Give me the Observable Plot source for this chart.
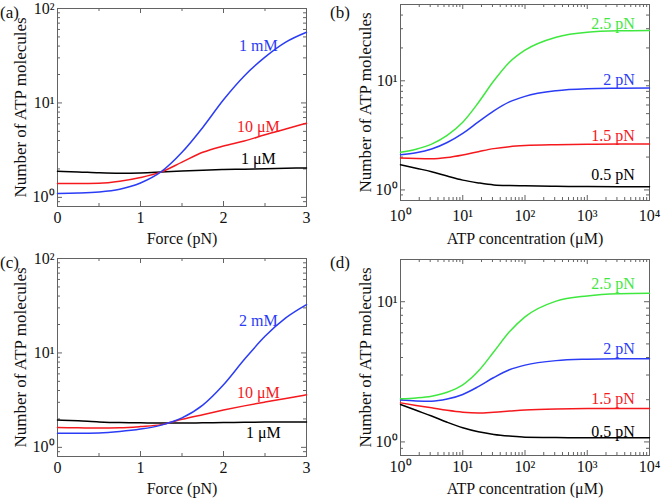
<!DOCTYPE html>
<html><head><meta charset="utf-8">
<script src="https://cdn.jsdelivr.net/npm/d3@7"></script>
<script src="https://cdn.jsdelivr.net/npm/@observablehq/plot@0.6"></script>
<style>
body{margin:0;background:#fff;}
#chart{position:relative;width:661px;height:498px;background:#fff;font-family:"Liberation Serif",serif;overflow:hidden;}
#chart svg, #chart svg text{font-family:"Liberation Serif",serif !important;}
.panel{position:absolute;}
.tag{position:absolute;font-size:17px;color:#111;line-height:1;font-family:"Liberation Serif",serif;}
</style></head><body><div id="chart"></div>
<script>
// ---------- data ----------
const force = [0, 0.25, 0.5, 0.75, 1.0, 1.25, 1.5, 1.75, 2.0, 2.25, 2.5, 2.75, 3.0];
const concentration = [1, 1.78, 3.16, 5.62, 10, 17.8, 31.6, 56.2, 100, 316, 1000, 3162, 10000];

// panel (a): number vs force
const a_1mM  = [1.10, 1.11, 1.14, 1.22, 1.42, 1.87, 3.0, 5.5, 10.8, 19.3, 30.5, 44, 56];
const a_10uM = [1.40, 1.40, 1.41, 1.48, 1.62, 1.86, 2.36, 3.0, 3.5, 3.95, 4.6, 5.3, 6.1];
const a_1uM  = [1.89, 1.86, 1.82, 1.80, 1.81, 1.85, 1.90, 1.94, 1.97, 1.99, 2.01, 2.03, 2.05];

// panel (b): number vs ATP concentration
const b_25pN = [2.21, 2.36, 2.63, 3.16, 4.17, 6.3, 10.0, 14.8, 19.1, 25.1, 27.9, 28.7, 28.9];
const b_2pN  = [2.10, 2.19, 2.37, 2.72, 3.3, 4.2, 5.3, 6.4, 7.2, 8.1, 8.45, 8.55, 8.6];
const b_15pN = [1.96, 1.94, 1.93, 1.98, 2.09, 2.24, 2.39, 2.49, 2.55, 2.60, 2.62, 2.63, 2.64];
const b_05pN = [1.70, 1.58, 1.47, 1.34, 1.23, 1.16, 1.11, 1.095, 1.09, 1.08, 1.075, 1.07, 1.07];

// panel (c): number vs force
const c_2mM  = [1.41, 1.41, 1.42, 1.47, 1.56, 1.72, 2.05, 2.8, 4.6, 8.5, 15.0, 23.5, 32.5];
const c_10uM = [1.62, 1.61, 1.60, 1.61, 1.66, 1.74, 1.98, 2.22, 2.48, 2.75, 3.02, 3.3, 3.6];
const c_1uM  = [1.95, 1.91, 1.86, 1.83, 1.82, 1.81, 1.81, 1.82, 1.83, 1.84, 1.85, 1.85, 1.86];

// panel (d): number vs ATP concentration
const d_25pN = [2.03, 2.06, 2.12, 2.26, 2.55, 3.2, 4.4, 6.1, 7.8, 10.1, 11.0, 11.4, 11.5];
const d_2pN  = [1.99, 1.96, 1.95, 2.02, 2.18, 2.48, 2.88, 3.27, 3.53, 3.80, 3.89, 3.92, 3.92];
const d_15pN = [1.90, 1.82, 1.75, 1.68, 1.63, 1.61, 1.63, 1.66, 1.69, 1.72, 1.73, 1.73, 1.73];
const d_05pN = [1.85, 1.68, 1.53, 1.38, 1.26, 1.18, 1.13, 1.10, 1.08, 1.075, 1.07, 1.07, 1.07];

// series labels (text and anchor in data units)
const labelsA = [{text:"1 mM", x:2.42, y:40.6, s:"blue"}, {text:"10 μM", x:2.42, y:5.63, s:"red"}, {text:"1 μM", x:2.42, y:2.58, s:"black"}];
const labelsB = [{text:"2.5 pN", x:5800, y:33.5, s:"green"}, {text:"2 pN", x:5800, y:10.3, s:"blue"}, {text:"1.5 pN", x:5800, y:3.15, s:"red"}, {text:"0.5 pN", x:5800, y:1.36, s:"black"}];
const labelsC = [{text:"2 mM", x:2.42, y:22.1, s:"blue"}, {text:"10 μM", x:2.42, y:3.81, s:"red"}, {text:"1 μM", x:2.48, y:1.44, s:"black"}];
const labelsD = [{text:"2.5 pN", x:5800, y:13.3, s:"green"}, {text:"2 pN", x:5800, y:4.59, s:"blue"}, {text:"1.5 pN", x:5800, y:2.03, s:"red"}, {text:"0.5 pN", x:5800, y:1.18, s:"black"}];

const forceTicks = [0, 1, 2, 3];
const forceMinor = [0.5, 1.5, 2.5];
const yLabel = "Number of ATP molecules";
const xLabelForce = "Force (pN)";
const xLabelConc = "ATP concentration (μM)";

// ---------- styling ----------
const COLORS = {blue:"#2a3cf5", red:"#f5191e", green:"#3fe83f", black:"#000000"};
const FRAME = "#636363";
const FONT = '"Liberation Serif", serif';
const SUP = {"-":"⁻","0":"⁰","1":"¹","2":"²","3":"³","4":"⁴"};
const pow10 = d => "10" + String(Math.round(Math.log10(d))).split("").map(c => SUP[c]).join("");

function logTicks(lo, hi) {
  const major = [], minor = [];
  for (let k = Math.floor(Math.log10(lo)); k <= Math.ceil(Math.log10(hi)); k++) {
    const base = Math.pow(10, k);
    if (base >= lo * 0.9999 && base <= hi * 1.0001) major.push(base);
    for (let m = 2; m <= 9; m++) { const v = m * base; if (v > lo && v < hi) minor.push(v); }
  }
  return {major, minor};
}

function rows(xs, ys, s) { return xs.map((x, i) => ({x, y: ys[i], s})); }

function panel(cfg) {
  const {W, H, m, xType, xDomain, yDomain, series, labels, xLabel, xTickPad, xLabelDy, yLabelDx} = cfg;
  const innerW = W - m.left - m.right, innerH = H - m.top - m.bottom;
  const yt = logTicks(yDomain[0], yDomain[1]);
  let xMajor, xMinor, xFmt;
  if (xType === "log") { const t = logTicks(xDomain[0], xDomain[1]); xMajor = t.major; xMinor = t.minor; xFmt = pow10; }
  else { xMajor = forceTicks; xMinor = forceMinor; xFmt = d => String(d); }
  const st = {stroke: FRAME, strokeWidth: 1};
  const MJ = 5, MN = 3;
  const data = series.flat();
  return Plot.plot({
    width: W, height: H,
    marginTop: m.top, marginRight: m.right, marginBottom: m.bottom, marginLeft: m.left,
    style: {fontFamily: FONT, fontSize: "16px", background: "transparent", color: "#111"},
    x: {type: xType, domain: xDomain},
    y: {type: "log", domain: yDomain},
    marks: [
      Plot.tickX(xMajor, {x: d => d, insetTop: innerH - MJ, ...st}),
      Plot.tickX(xMajor, {x: d => d, insetBottom: innerH - MJ, ...st}),
      Plot.tickX(xMinor, {x: d => d, insetTop: innerH - MN, ...st}),
      Plot.tickX(xMinor, {x: d => d, insetBottom: innerH - MN, ...st}),
      Plot.tickY(yt.major, {y: d => d, insetRight: innerW - MJ, ...st}),
      Plot.tickY(yt.major, {y: d => d, insetLeft: innerW - MJ, ...st}),
      Plot.tickY(yt.minor, {y: d => d, insetRight: innerW - MN, ...st}),
      Plot.tickY(yt.minor, {y: d => d, insetLeft: innerW - MN, ...st}),
      Plot.axisX(xMajor, {anchor: "bottom", tickSize: 0, tickPadding: xTickPad, tickFormat: xFmt, label: null, fontSize: 16}),
      Plot.axisY(yt.major, {anchor: "left", tickSize: 0, tickPadding: 3, tickFormat: pow10, label: null, fontSize: 16}),
      Plot.frame(st),
      Plot.line(data, {x: "x", y: "y", z: "s", stroke: d => COLORS[d.s], curve: "monotone-x", strokeWidth: 1.5}),
      Plot.text(labels, {x: "x", y: "y", text: "text", fill: d => COLORS[d.s], fontSize: 16,
        textAnchor: xType === "log" ? "end" : "middle", lineAnchor: "middle"}),
      Plot.text([xLabel], {frameAnchor: "bottom", text: d => d, dy: xLabelDy, textAnchor: "middle", lineAnchor: "middle", fontSize: 16, fill: "#111"}),
      Plot.text([yLabel], {frameAnchor: "left", text: d => d, dx: -yLabelDx, rotate: -90, textAnchor: "middle", lineAnchor: "middle", fontSize: 17, fill: "#111"})
    ]
  });
}

const specs = [
  {tag: "(a)", left: 0, top: 0, W: 330, H: 250, m: {top: 8, right: 24, bottom: 44, left: 57},
   xType: "linear", xDomain: [0, 3], yDomain: [0.8, 100],
   series: [rows(force, a_1uM, "black"), rows(force, a_10uM, "red"), rows(force, a_1mM, "blue")],
   labels: labelsA, xLabel: xLabelForce, xTickPad: 5, xLabelDy: 32, yLabelDx: 37},
  {tag: "(b)", left: 330, top: 0, W: 331, H: 250, m: {top: 4, right: 12, bottom: 50, left: 70},
   xType: "log", xDomain: [1, 10000], yDomain: [0.8, 50],
   series: [rows(concentration, b_05pN, "black"), rows(concentration, b_15pN, "red"), rows(concentration, b_2pN, "blue"), rows(concentration, b_25pN, "green")],
   labels: labelsB, xLabel: xLabelConc, xTickPad: 9, xLabelDy: 38, yLabelDx: 35},
  {tag: "(c)", left: 0, top: 250, W: 330, H: 248, m: {top: 8, right: 24, bottom: 42, left: 57},
   xType: "linear", xDomain: [0, 3], yDomain: [0.8, 100],
   series: [rows(force, c_1uM, "black"), rows(force, c_10uM, "red"), rows(force, c_2mM, "blue")],
   labels: labelsC, xLabel: xLabelForce, xTickPad: 5, xLabelDy: 32, yLabelDx: 37},
  {tag: "(d)", left: 330, top: 250, W: 331, H: 248, m: {top: 9, right: 12, bottom: 43, left: 70},
   xType: "log", xDomain: [1, 10000], yDomain: [0.8, 20],
   series: [rows(concentration, d_05pN, "black"), rows(concentration, d_15pN, "red"), rows(concentration, d_2pN, "blue"), rows(concentration, d_25pN, "green")],
   labels: labelsD, xLabel: xLabelConc, xTickPad: 5, xLabelDy: 33, yLabelDx: 35}
];

const chart = document.getElementById("chart");
for (const s of specs) {
  const wrap = document.createElement("div");
  wrap.className = "panel";
  wrap.style.left = s.left + "px"; wrap.style.top = s.top + "px";
  wrap.appendChild(panel(s));
  chart.appendChild(wrap);
  const tag = document.createElement("div");
  tag.className = "tag"; tag.textContent = s.tag;
  tag.style.left = s.left + "px"; tag.style.top = (s.top + 4) + "px";
  chart.appendChild(tag);
}
</script></body></html>
